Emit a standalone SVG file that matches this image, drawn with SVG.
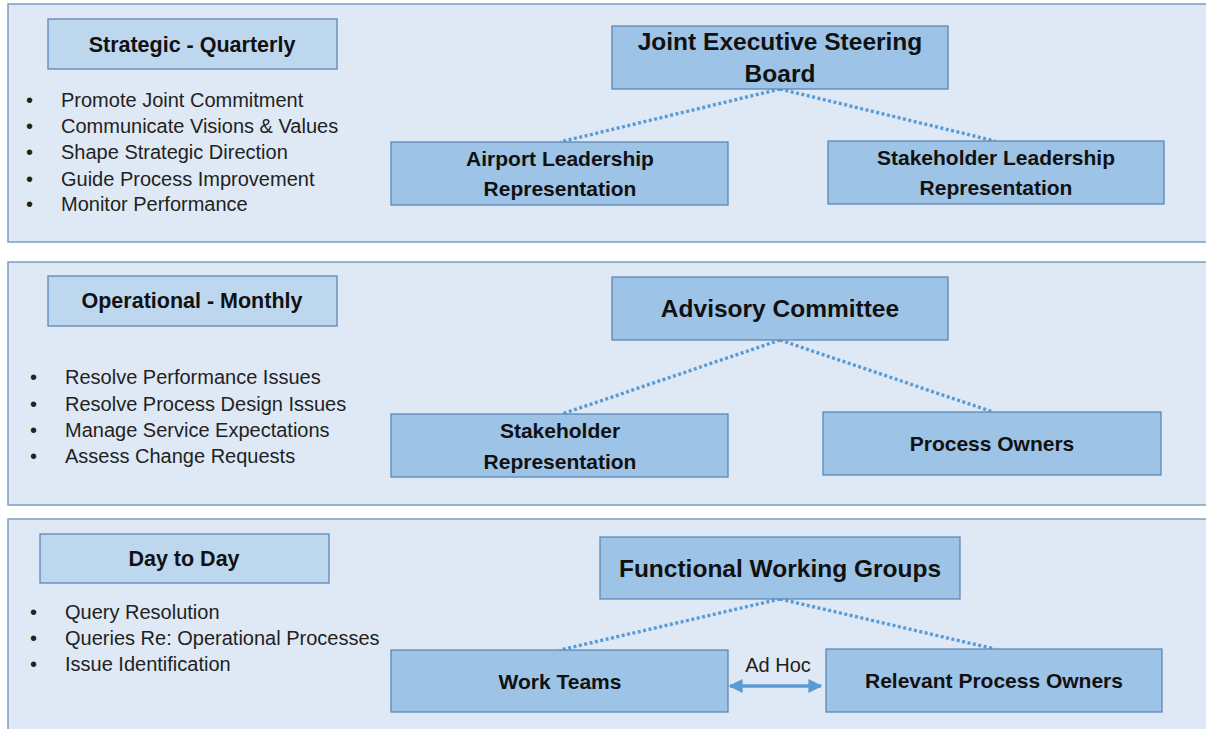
<svg xmlns="http://www.w3.org/2000/svg" width="1206" height="729" viewBox="0 0 1206 729">
<defs>
<style>
.panel{fill:#dee9f5;stroke:#7b9cc2;stroke-width:1.5}
.hdr{fill:#bdd7ee;stroke:#5d87b4;stroke-width:1.3}
.node{fill:#9dc3e6;stroke:#5d87b4;stroke-width:1.3}
.ht{font-family:"Liberation Sans",Arial,sans-serif;font-weight:bold;font-size:21.5px;fill:#111;text-anchor:middle}
.nt{font-family:"Liberation Sans",Arial,sans-serif;font-weight:bold;font-size:21px;fill:#111;text-anchor:middle}
.big{font-size:24.5px}
.bl{font-family:"Liberation Sans",Arial,sans-serif;font-size:20px;fill:#222}
.dot{stroke:#5b9bd5;stroke-width:3.4;stroke-dasharray:3 2.5;fill:none}
.arr{stroke:#5b9bd5;stroke-width:3.5;fill:none}
</style>
<marker id="ah" viewBox="0 0 10 10" refX="9" refY="5" markerWidth="4" markerHeight="4" orient="auto-start-reverse" markerUnits="strokeWidth">
<path d="M0,0 L10,5 L0,10 z" fill="#5b9bd5"/>
</marker>
</defs>
<rect width="1206" height="729" fill="#ffffff"/>
<g id="panels">
<rect class="panel" x="8" y="4" width="1210" height="238"/>
<rect class="panel" x="8" y="262" width="1210" height="243"/>
<rect class="panel" x="8" y="519" width="1210" height="220"/>
</g>
<g id="connectors">
<line class="dot" x1="780" y1="89" x2="560" y2="142"/>
<line class="dot" x1="780" y1="89" x2="995" y2="141"/>
<line class="dot" x1="780" y1="340" x2="562" y2="414"/>
<line class="dot" x1="780" y1="340" x2="993" y2="412"/>
<line class="dot" x1="780" y1="599" x2="560" y2="650"/>
<line class="dot" x1="780" y1="599" x2="995" y2="649"/>
<line class="arr" x1="730" y1="686" x2="821" y2="686" marker-start="url(#ah)" marker-end="url(#ah)"/>
<text x="778" y="672" class="bl" style="font-size:20px;text-anchor:middle">Ad Hoc</text>
</g>
<g id="strategic">
<rect class="hdr" x="48" y="19" width="289" height="50"/>
<text class="ht" x="192" y="52">Strategic - Quarterly</text>
</g>
<g id="strategic-list" class="bl">
<text x="26" y="107">•</text><text x="61" y="107">Promote Joint Commitment</text>
<text x="26" y="133">•</text><text x="61" y="133">Communicate Visions &amp; Values</text>
<text x="26" y="159">•</text><text x="61" y="159">Shape Strategic Direction</text>
<text x="26" y="186">•</text><text x="61" y="186">Guide Process Improvement</text>
<text x="26" y="211">•</text><text x="61" y="211">Monitor Performance</text>
</g>
<g id="jesb">
<rect class="node" x="612" y="26" width="336" height="63"/>
<text class="nt big" x="780" y="50">Joint Executive Steering</text>
<text class="nt big" x="780" y="82">Board</text>
</g>
<g id="airport">
<rect class="node" x="391" y="142" width="337" height="63"/>
<text class="nt" x="560" y="166">Airport  Leadership</text>
<text class="nt" x="560" y="196">Representation</text>
</g>
<g id="stakeholder-leadership">
<rect class="node" x="828" y="141" width="336" height="63"/>
<text class="nt" x="996" y="165">Stakeholder  Leadership</text>
<text class="nt" x="996" y="195">Representation</text>
</g>
<g id="operational">
<rect class="hdr" x="48" y="276" width="289" height="50"/>
<text class="ht" x="192" y="308">Operational  - Monthly</text>
</g>
<g id="operational-list" class="bl">
<text x="30" y="384">•</text><text x="65" y="384">Resolve Performance Issues</text>
<text x="30" y="411">•</text><text x="65" y="411">Resolve Process Design Issues</text>
<text x="30" y="437">•</text><text x="65" y="437">Manage Service Expectations</text>
<text x="30" y="463">•</text><text x="65" y="463">Assess Change Requests</text>
</g>
<g id="advisory">
<rect class="node" x="612" y="277" width="336" height="63"/>
<text class="nt big" x="780" y="317">Advisory Committee</text>
</g>
<g id="stakeholder-rep">
<rect class="node" x="391" y="414" width="337" height="63"/>
<text class="nt" x="560" y="438">Stakeholder</text>
<text class="nt" x="560" y="469">Representation</text>
</g>
<g id="process-owners">
<rect class="node" x="823" y="412" width="338" height="63"/>
<text class="nt" x="992" y="451">Process  Owners</text>
</g>
<g id="daytoday">
<rect class="hdr" x="40" y="534" width="289" height="49"/>
<text class="ht" x="184" y="566">Day to Day</text>
</g>
<g id="daytoday-list" class="bl">
<text x="30" y="619">•</text><text x="65" y="619">Query Resolution</text>
<text x="30" y="645">•</text><text x="65" y="645">Queries Re: Operational Processes</text>
<text x="30" y="671">•</text><text x="65" y="671">Issue Identification</text>
</g>
<g id="fwg">
<rect class="node" x="600" y="537" width="360" height="62"/>
<text class="nt big" x="780" y="577">Functional Working Groups</text>
</g>
<g id="work-teams">
<rect class="node" x="391" y="650" width="337" height="62"/>
<text class="nt" x="560" y="689">Work Teams</text>
</g>
<g id="relevant-po">
<rect class="node" x="826" y="649" width="336" height="63"/>
<text class="nt" x="994" y="688">Relevant Process Owners</text>
</g>
</svg>
